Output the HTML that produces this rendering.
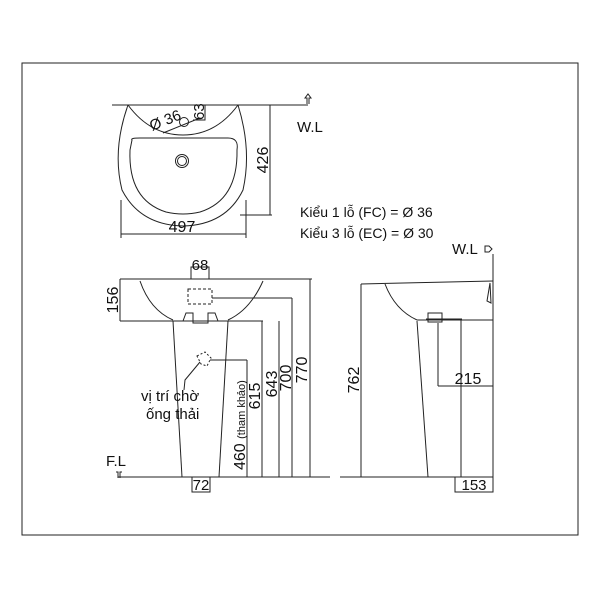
<!DOCTYPE html>
<html><head><style>body{margin:0;background:#fff}svg{display:block}text{font-family:"Liberation Sans",sans-serif;fill:#111}</style></head>
<body>
<svg width="600" height="600" viewBox="0 0 600 600" fill="none" stroke="#222" stroke-width="1">
<rect x="22" y="63" width="556" height="472"/>
<!-- top view -->
<line x1="112" y1="105" x2="308" y2="105"/>
<path d="M128 105 Q112 150 122 190 Q140 225 183 226 Q226 225 243 190 Q252 150 238 105"/>
<path d="M128 105 Q150 135 183 135 Q216 135 238 105"/>
<path d="M132 140 Q130 138 140 138 L228 138 Q239 138 237 150 Q238 200 200 212 Q183 216 166 212 Q128 200 130 150 Z"/>
<circle cx="182" cy="161" r="6.5"/><circle cx="182" cy="161" r="4.5"/>
<path d="M163 133 L200 118"/><circle cx="184" cy="122" r="4.5"/>
<polyline points="193,105 205,105 205,120 193,120"/>
<line x1="121" y1="200" x2="121" y2="238"/><line x1="246" y1="200" x2="246" y2="238"/>
<line x1="121" y1="234" x2="246" y2="234"/>
<line x1="240" y1="215" x2="272" y2="215"/>
<line x1="270" y1="105" x2="270" y2="215"/>
<path d="M307 104 l0 -6 -2 0 3 -4 3 4 -2 0 0 6"/>
<text x="182" y="232" font-size="16" text-anchor="middle" stroke="none">497</text>
<text transform="translate(268 160) rotate(-90)" font-size="16" text-anchor="middle" stroke="none">426</text>
<text transform="translate(152 131) rotate(-22)" font-size="15" stroke="none">Ø 36</text>
<text transform="translate(204 120) rotate(-90)" font-size="15" stroke="none">63</text>
<text x="297" y="132" font-size="15" stroke="none">W.L</text>
<text x="300" y="217" font-size="14" stroke="none">Kiểu 1 lỗ (FC) = Ø 36</text>
<text x="300" y="238" font-size="14" stroke="none">Kiểu 3 lỗ (EC) = Ø 30</text>
<!-- front view -->
<line x1="120" y1="279" x2="312" y2="279"/>
<path d="M140 281 Q150 310 173 320"/><path d="M263 281 Q250 310 228 320"/>
<line x1="120" y1="321" x2="263" y2="321"/>
<line x1="120" y1="279" x2="120" y2="321"/>
<polyline points="183,321 186,313 193,313 193,323 208,323 208,313 215,313 218,321"/>
<line x1="173" y1="321" x2="182" y2="477"/><line x1="228" y1="321" x2="219" y2="477"/>
<line x1="118" y1="477" x2="330" y2="477"/>
<rect x="191" y="267" width="18" height="12"/>
<rect x="188" y="289" width="24" height="15" stroke-dasharray="3 2"/>
<line x1="212" y1="298" x2="292" y2="298"/>
<line x1="210" y1="360" x2="247" y2="360"/>
<path d="M197 356 l8 -4 6 6 -4 8 -6 -2 z" stroke-dasharray="2 2"/>
<path d="M200 362 L185 380 L184 390"/>
<line x1="310" y1="279" x2="310" y2="477"/>
<line x1="292" y1="298" x2="292" y2="477"/>
<line x1="279" y1="321" x2="279" y2="477"/>
<line x1="262" y1="321" x2="262" y2="477"/>
<line x1="247" y1="360" x2="247" y2="477"/>
<rect x="192" y="477" width="18" height="15"/>
<path d="M118 478 l0 -6 -2 0 M120 478 l0 -6 2 0"/>
<text x="200" y="270" font-size="15" text-anchor="middle" stroke="none">68</text>
<text transform="translate(118 300) rotate(-90)" font-size="16" text-anchor="middle" stroke="none">156</text>
<text x="201" y="490" font-size="15" text-anchor="middle" stroke="none">72</text>
<text x="106" y="466" font-size="15" stroke="none">F.L</text>
<text x="141" y="401" font-size="15" stroke="none">vị trí chờ</text>
<text x="146" y="419" font-size="15" stroke="none">ống thải</text>
<text transform="translate(245 470) rotate(-90)" font-size="16" stroke="none">460 <tspan font-size="11">(tham khảo)</tspan></text>
<text transform="translate(260 396) rotate(-90)" font-size="16" text-anchor="middle" stroke="none">615</text>
<text transform="translate(277 384) rotate(-90)" font-size="16" text-anchor="middle" stroke="none">643</text>
<text transform="translate(291 378) rotate(-90)" font-size="16" text-anchor="middle" stroke="none">700</text>
<text transform="translate(307 370) rotate(-90)" font-size="16" text-anchor="middle" stroke="none">770</text>
<!-- side view -->
<line x1="361" y1="284" x2="493" y2="281"/>
<line x1="361" y1="284" x2="361" y2="477"/>
<path d="M385 284 Q395 310 417 320"/>
<line x1="417" y1="320" x2="493" y2="320"/>
<line x1="493" y1="254" x2="493" y2="477"/>
<path d="M490 283 l-3 18 4 2 z"/>
<rect x="428" y="313" width="14" height="9"/>
<line x1="426" y1="319" x2="462" y2="319"/>
<line x1="417" y1="321" x2="428" y2="477"/>
<line x1="461" y1="320" x2="461" y2="477"/>
<line x1="438" y1="323" x2="438" y2="386"/>
<line x1="438" y1="386" x2="493" y2="386"/>
<line x1="340" y1="477" x2="493" y2="477"/>
<rect x="455" y="477" width="38" height="15"/>
<path d="M485 246 l4 0 3 3 -3 3 -4 0 z"/>
<text x="452" y="254" font-size="15" stroke="none">W.L</text>
<text transform="translate(359 380) rotate(-90)" font-size="16" text-anchor="middle" stroke="none">762</text>
<text x="468" y="384" font-size="16" text-anchor="middle" stroke="none">215</text>
<text x="474" y="490" font-size="15" text-anchor="middle" stroke="none">153</text>
</svg>
</body></html>
